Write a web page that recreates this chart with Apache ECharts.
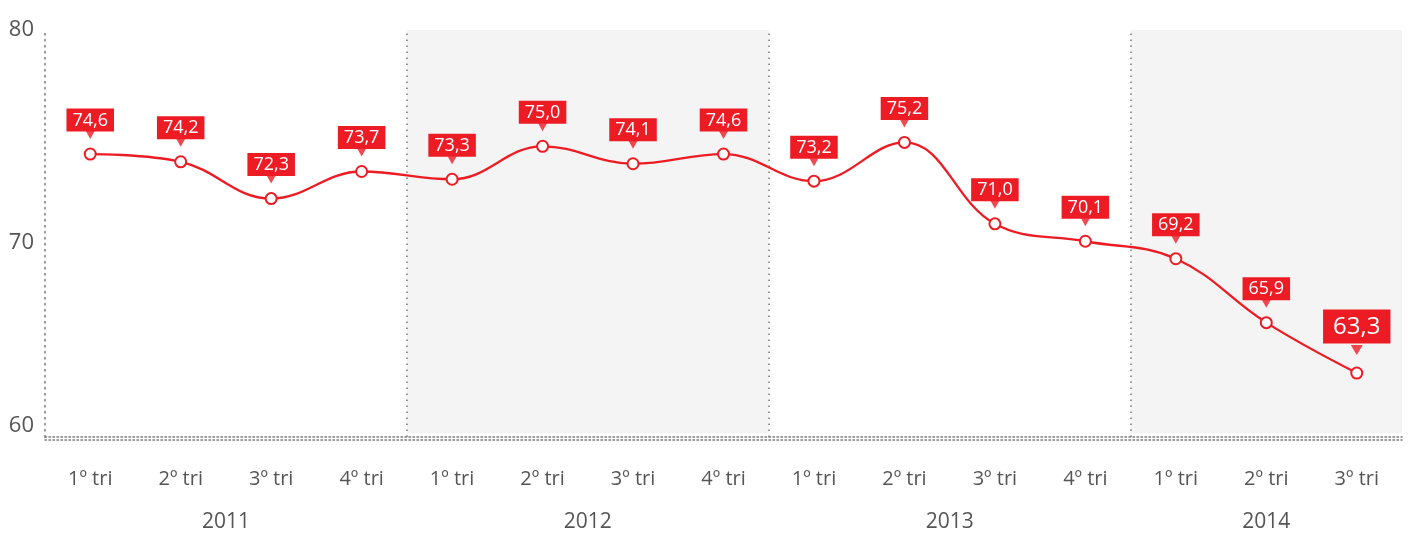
<!DOCTYPE html>
<html><head><meta charset="utf-8">
<script src="https://cdn.jsdelivr.net/npm/echarts@6/dist/echarts.min.js"></script>
<style>html,body{margin:0;padding:0;background:#fff}#c{width:1408px;height:534px}</style>
</head><body><div id="c"></div>
<script>
const quarters = ['1º tri','2º tri','3º tri','4º tri','1º tri','2º tri','3º tri','4º tri','1º tri','2º tri','3º tri','4º tri','1º tri','2º tri','3º tri'];
const years = ['2011','2012','2013','2014'];
const quartersPerYear = [4,4,4,3];
const values = [74.6,74.2,72.3,73.7,73.3,75.0,74.1,74.6,73.2,75.2,71.0,70.1,69.2,65.9,63.3];
const yTicks = ['60','70','80'];

const RED = '#ed1c24';
const GRAY = '#555';
const DOT = '#7a7a7a';
const FONT = "'Open Sans', 'Noto Sans', sans-serif";

// year spans in category units (edges at -0.5 + cumulative counts)
const yearCenters = [], yearEdges = [];
let acc = 0;
quartersPerYear.forEach(n => {
  yearCenters.push(acc + (n - 1) / 2);
  yearEdges.push([acc - 0.5, acc + n - 0.5]);
  acc += n;
});
const catIds = quarters.map((q, i) => 'c' + i);

const chart = echarts.init(document.getElementById('c'), null, {renderer: 'canvas'});
const fmt = v => v.toFixed(1).replace('.', ',');
const last = values.length - 1;

chart.setOption({
  animation: false,
  grid: {left: 45, right: 6, top: 30, bottom: 97, containLabel: false},
  xAxis: [{
    type: 'category',
    data: catIds,
    boundaryGap: true,
    z: 10,
    axisLine: {show: true, lineStyle: {color: DOT, width: 1.5, type: [1.5, 2.5], shadowColor: DOT, shadowBlur: 0, shadowOffsetY: 3}},
    axisTick: {show: false},
    axisLabel: {margin: 32, color: GRAY, fontSize: 20, fontFamily: FONT, formatter: (v, i) => quarters[i]},
    splitLine: {show: false}
  }, {
    type: 'value',
    position: 'bottom',
    min: -0.5, max: quarters.length - 0.5,
    axisLine: {show: false}, axisTick: {show: false}, splitLine: {show: false},
    axisLabel: {
      margin: 75, color: GRAY, fontSize: 21, fontFamily: FONT,
      customValues: yearCenters,
      formatter: (v) => { const k = yearCenters.indexOf(v); return k >= 0 ? years[k] : ''; }
    }
  }],
  yAxis: {
    type: 'value', min: 60, max: 81,
    z: 10,
    axisLine: {show: true, onZero: false, lineStyle: {color: DOT, width: 1.5, type: [1.5, 4.5]}},
    axisTick: {show: false},
    splitLine: {show: false},
    axisLabel: {
      margin: 11, color: GRAY, fontSize: 22, fontFamily: FONT,
      customValues: [60.6, 70, 81],
      formatter: (v) => v >= 80 ? yTicks[2] : (v >= 70 ? yTicks[1] : yTicks[0])
    }
  },
  series: [{
    type: 'line',
    xAxisIndex: 1,
    data: [],
    silent: true,
    markArea: {
      silent: true,
      itemStyle: {color: '#f4f4f4'},
      data: yearEdges.filter((e, i) => i % 2 === 1).map(e => [{xAxis: e[0], yAxis: 60.2}, {xAxis: e[1], yAxis: 81}])
    },
    markLine: {
      silent: true, symbol: 'none', label: {show: false},
      lineStyle: {color: DOT, width: 1.5, type: [1.5, 4.5]},
      data: yearEdges.slice(1).map(e => ({xAxis: e[0]}))
    },
    z: 1
  }, {
    type: 'line',
    data: values.map((v, i) => i === last ? {
      value: v,
      label: {fontSize: 24, padding: [6, 10, 4, 10], distance: 23}
    } : v),
    smooth: 0.4,
    symbol: 'circle', symbolSize: 11,
    itemStyle: {color: '#fff', borderColor: RED, borderWidth: 2},
    lineStyle: {color: RED, width: 2.3},
    label: {
      show: true, position: 'top', distance: 16,
      formatter: p => fmt(p.value),
      color: '#fff', backgroundColor: RED, fontSize: 18, fontFamily: FONT,
      padding: [3, 6, 2, 6]
    },
    z: 5
  }, {
    type: 'scatter',
    data: values.map((v, i) => i === last ? {value: v, symbolOffset: [0, -23], symbolSize: [12, 10]} : v),
    symbol: 'path://M0,0L10,0L5,7Z',
    symbolSize: [9, 8],
    symbolOffset: [0, -19],
    itemStyle: {color: RED},
    silent: true,
    z: 6
  }]
});
</script></body></html>
